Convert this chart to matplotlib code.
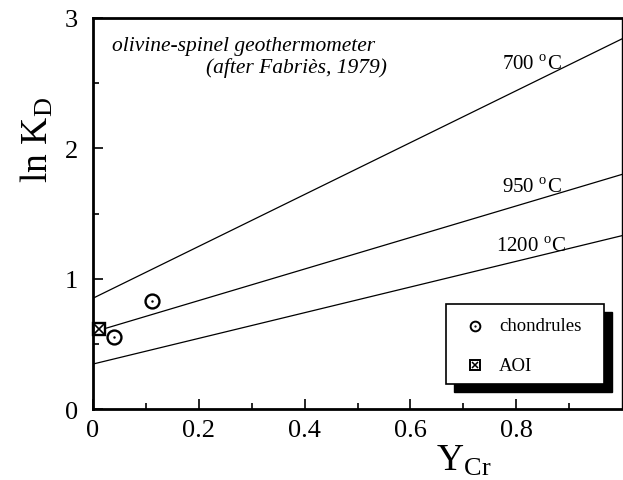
import numpy as np
import matplotlib
matplotlib.use("Agg")
import matplotlib.pyplot as plt
from matplotlib.patches import Rectangle

plt.rcParams['font.family'] = ['Liberation Serif', 'DejaVu Serif']
plt.rcParams['mathtext.fontset'] = 'stix'

# Isotermas (ln KD en Y_Cr = 0 y Y_Cr = 1)
isotermas = ['700 $^{\\mathregular{o}}$C', '950 $^{\\mathregular{o}}$C', '1200 $^{\\mathregular{o}}$C']
ln_kd_0 = [0.85, 0.59, 0.345]
ln_kd_1 = [2.84, 1.80, 1.33]
y_cr_ext = [0.0, 1.0]

# Datos
chondrules_x = [0.111, 0.040]
chondrules_y = [0.825, 0.554]
aoi_x = [0.012]
aoi_y = [0.615]

fig = plt.figure(figsize=(6.23, 4.81), dpi=100)
ax = fig.add_axes([0.1493, 0.1476, 0.8491, 0.8129])

for y0, y1 in zip(ln_kd_0, ln_kd_1):
    ax.plot(y_cr_ext, [y0, y1], color='black', lw=0.9)

ax.plot(chondrules_x, chondrules_y, 'o', mfc='white', mec='black', mew=1.7, ms=10, clip_on=False)
ax.plot(chondrules_x, chondrules_y, '.', color='black', ms=1.5)
ax.plot(aoi_x, aoi_y, 's', mfc='white', mec='black', mew=1.7, ms=9, clip_on=False)
ax.plot(aoi_x, aoi_y, 'x', color='black', mew=1.2, ms=7, clip_on=False)

ax.set_xlim(0, 1.0)
ax.set_ylim(0, 3)
ax.set_xticks([0, 0.2, 0.4, 0.6, 0.8])
ax.set_xticklabels(['0', '0.2', '0.4', '0.6', '0.8'])
ax.set_xticks(np.arange(0.1, 1.0, 0.2), minor=True)
ax.set_yticks([0, 1, 2, 3])
ax.set_yticks([0.5, 1.5, 2.5], minor=True)
ax.tick_params(direction='in', which='major', length=7, width=1.2, labelsize=19)
ax.tick_params(axis='x', which='major', pad=7)
ax.tick_params(axis='y', which='major', pad=11)
ax.tick_params(direction='in', which='minor', length=4, width=1.2)
for s in ['left', 'bottom', 'top']:
    ax.spines[s].set_linewidth(2)
ax.spines['right'].set_linewidth(1)

ax.set_xlabel('Y$_{\\mathregular{Cr}}$', fontsize=27)
ax.xaxis.set_label_coords(0.70, -0.088)
ax.set_ylabel('ln K$_{\\mathregular{D}}$', fontsize=27)
ax.yaxis.set_label_coords(-0.07, 0.69)

# Etiquetas de isotermas
ax.text(0.83, 2.64, isotermas[0], fontsize=15, ha='center', va='center')
ax.text(0.83, 1.70, isotermas[1], fontsize=15, ha='center', va='center')
ax.text(0.828, 1.245, isotermas[2], fontsize=15, ha='center', va='center')

ax.text(0.035, 2.79, 'olivine-spinel geothermometer', fontsize=15.5, style='italic', va='center')
ax.text(0.556, 2.62, '(after Fabriès, 1979)', fontsize=15.5, style='italic', va='center', ha='right')

# Leyenda con sombra
sombra = Rectangle((0.682, 0.044), 0.299, 0.205, transform=ax.transAxes, color='black', zorder=4)
caja = Rectangle((0.667, 0.064), 0.299, 0.205, transform=ax.transAxes, fc='white', ec='black', lw=1.2, zorder=5)
ax.add_patch(sombra)
ax.add_patch(caja)
ax.plot([0.722], [0.213], 'o', mfc='white', mec='black', mew=1.4, ms=7, transform=ax.transAxes, zorder=6)
ax.plot([0.722], [0.213], '.', color='black', ms=1.2, transform=ax.transAxes, zorder=6)
ax.plot([0.722], [0.112], 's', mfc='white', mec='black', mew=1.4, ms=7, transform=ax.transAxes, zorder=6)
ax.plot([0.722], [0.112], 'x', color='black', mew=1.1, ms=5, transform=ax.transAxes, zorder=6)
ax.text(0.768, 0.213, 'chondrules', fontsize=13.5, va='center', transform=ax.transAxes, zorder=6)
ax.text(0.768, 0.112, 'AOI', fontsize=13.5, va='center', transform=ax.transAxes, zorder=6)

fig.savefig('out.png', dpi=100)
